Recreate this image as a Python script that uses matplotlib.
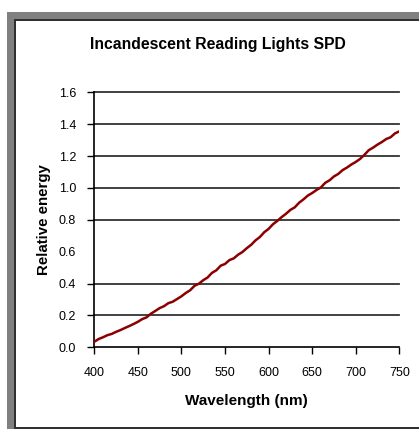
"""
Incandescent Reading Lights SPD
Relative spectral power of an incandescent lamp, 400-750 nm.
"""

import matplotlib
matplotlib.use("Agg")
import matplotlib.pyplot as plt
from matplotlib.patches import Rectangle


# ---------------------------------------------------------
# Data
# ---------------------------------------------------------

wavelength = list(range(400, 755, 5))

energy = [
    0.035, 0.052, 0.063, 0.076, 0.084, 0.097, 0.108, 0.121, 0.133, 0.146,
    0.160, 0.177, 0.188, 0.211, 0.228, 0.246, 0.258, 0.277, 0.286, 0.303,
    0.320, 0.341, 0.358, 0.386, 0.399, 0.421, 0.438, 0.467, 0.483, 0.512,
    0.523, 0.547, 0.558, 0.581, 0.598, 0.622, 0.643, 0.671, 0.692, 0.722,
    0.743, 0.772, 0.793, 0.817, 0.838, 0.862, 0.878, 0.907, 0.928, 0.952,
    0.968, 0.987, 1.003, 1.032, 1.048, 1.072, 1.088, 1.112, 1.128, 1.147,
    1.163, 1.182, 1.208, 1.237, 1.253, 1.272, 1.288, 1.307, 1.318, 1.342,
    1.355,
]

y_ticks = [0.0, 0.2, 0.4, 0.6, 0.8, 1.0, 1.2, 1.4, 1.6]
grid_levels = [0.2, 0.4, 0.8, 1.0, 1.2, 1.4, 1.6]
x_ticks = [400, 450, 500, 550, 600, 650, 700, 750]

W, H = 419, 429


# ---------------------------------------------------------
# Plot
# ---------------------------------------------------------

def main():

    plt.rcParams["font.family"] = ["Liberation Sans", "DejaVu Sans"]

    fig = plt.figure(figsize=(W / 100, H / 100), dpi=100)
    fig.patch.set_facecolor("white")

    # window-like frame
    fig.patches.append(Rectangle((7 / W, 0), 1, (H - 12) / H,
                                 transform=fig.transFigure, facecolor="#808080",
                                 edgecolor="none", zorder=-3))
    fig.patches.append(Rectangle((14 / W, 0.5 / H), 1, (H - 19.5) / H,
                                 transform=fig.transFigure, facecolor="#303030",
                                 edgecolor="none", zorder=-2))
    fig.patches.append(Rectangle((15.5 / W, 2.5 / H), 1, (H - 23) / H,
                                 transform=fig.transFigure, facecolor="white",
                                 edgecolor="none", zorder=-1))

    ax = fig.add_axes([94.3 / W, 1 - 347.3 / H, 305 / W, 255 / H])
    ax.set_facecolor("none")

    for g in grid_levels:
        ax.axhline(g, color="#333333", lw=1.3, clip_on=False, zorder=1)

    ax.plot(wavelength, energy, color="#8b0000", lw=1.8, zorder=3)

    ax.set_xlim(400, 750)
    ax.set_ylim(0, 1.6)

    ax.set_xticks(x_ticks)
    ax.set_xticklabels([str(x) for x in x_ticks])
    ax.set_yticks(y_ticks)
    ax.set_yticklabels(["%.1f" % y for y in y_ticks])

    ax.tick_params(axis="both", direction="out", length=5, width=1,
                   color="black", labelsize=9)
    ax.tick_params(axis="x", pad=9)
    ax.tick_params(axis="y", pad=8)
    ax.yaxis.get_major_ticks()[3].tick1line.set_visible(False)

    for s in ["top", "right"]:
        ax.spines[s].set_visible(False)
    for s in ["left", "bottom"]:
        ax.spines[s].set_color("black")
        ax.spines[s].set_linewidth(1.2)

    ax.set_xlabel("Wavelength (nm)", fontsize=11, fontweight="bold", labelpad=11)
    ax.set_ylabel("Relative energy", fontsize=10.8, fontweight="bold", labelpad=6)

    fig.text(218 / W, 1 - 44 / H, "Incandescent Reading Lights SPD",
             ha="center", va="center", fontsize=11.3, fontweight="bold")

    fig.savefig("out.png", dpi=100)


if __name__ == "__main__":
    main()
